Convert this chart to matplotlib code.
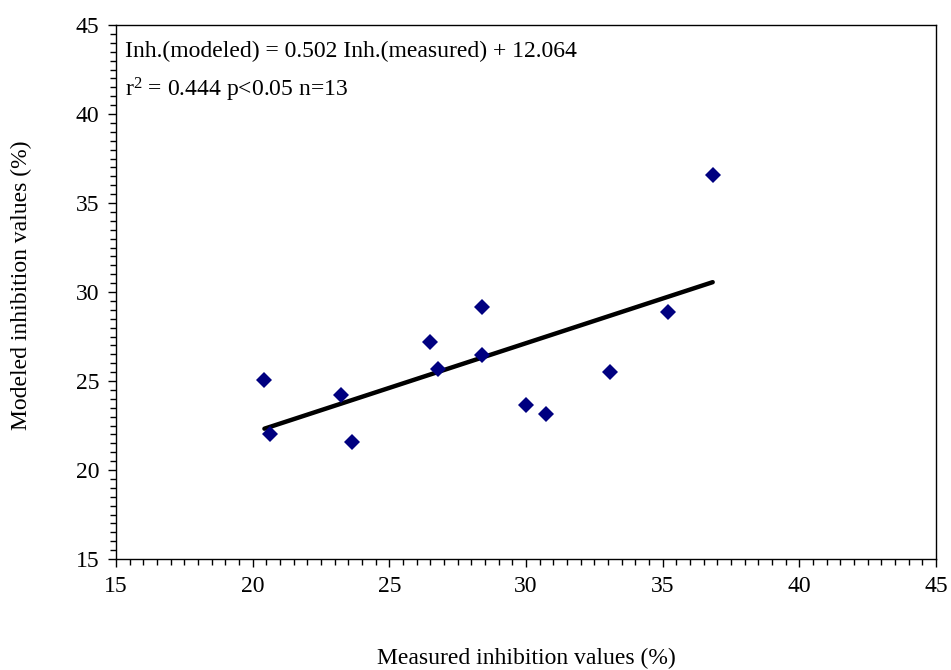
import matplotlib
matplotlib.use("Agg")
import matplotlib.pyplot as plt
import numpy as np
from matplotlib.ticker import MultipleLocator

measured = [20.43, 20.63, 23.22, 23.65, 26.50, 26.79, 28.39, 28.40, 30.01, 30.74, 33.09, 35.21, 36.83]
modeled = [25.07, 22.02, 24.20, 21.59, 27.21, 25.65, 26.48, 29.14, 23.63, 23.16, 25.52, 28.88, 36.56]
slope = 0.502
intercept = 12.064
eq_text = "Inh.(modeled) = 0.502 Inh.(measured) + 12.064"
stat_text = "r$^{2}$ = 0.444 p<0.05 n=13"

plt.rcParams['font.family'] = ['Liberation Serif', 'DejaVu Serif']
plt.rcParams['mathtext.fontset'] = 'custom'
plt.rcParams['mathtext.rm'] = 'Liberation Serif'
plt.rcParams['mathtext.it'] = 'Liberation Serif'
plt.rcParams['mathtext.default'] = 'regular'

fig = plt.figure(figsize=(9.51, 6.70), dpi=100)
ax = fig.add_axes([116/951, 1-559/670, (936-116)/951, (559-25)/670])

x_fit = np.array([min(measured), max(measured)])
ax.plot(x_fit, slope*x_fit + intercept, color='black', lw=3.2, solid_capstyle='round', zorder=2)
ax.plot(measured, modeled, 'D', color='#000080', markersize=8, markeredgewidth=0, zorder=3)

ax.set_xlim(15, 45)
ax.set_ylim(15, 45)
ax.xaxis.set_major_locator(MultipleLocator(5))
ax.yaxis.set_major_locator(MultipleLocator(5))
ax.xaxis.set_minor_locator(MultipleLocator(0.5))
ax.yaxis.set_minor_locator(MultipleLocator(0.5))
ax.tick_params(which='major', direction='out', length=6, width=1, labelsize=17, pad=6)
ax.tick_params(which='minor', direction='out', length=4, width=1)
for s in ax.spines.values():
    s.set_linewidth(1)

ax.text(9/820, (559-51)/534, eq_text, transform=ax.transAxes, fontsize=17, va='center', ha='left')
ax.text(9/820, (559-90)/534, stat_text, transform=ax.transAxes, fontsize=17, va='center', ha='left')

fig.text(526/951, 1-658/670, "Measured inhibition values (%)", fontsize=17, ha='center', va='center')
fig.text(21/951, 1-285/670, "Modeled inhibition values (%)", fontsize=17, ha='center', va='center', rotation=90)

fig.savefig("out.png", dpi=100)
